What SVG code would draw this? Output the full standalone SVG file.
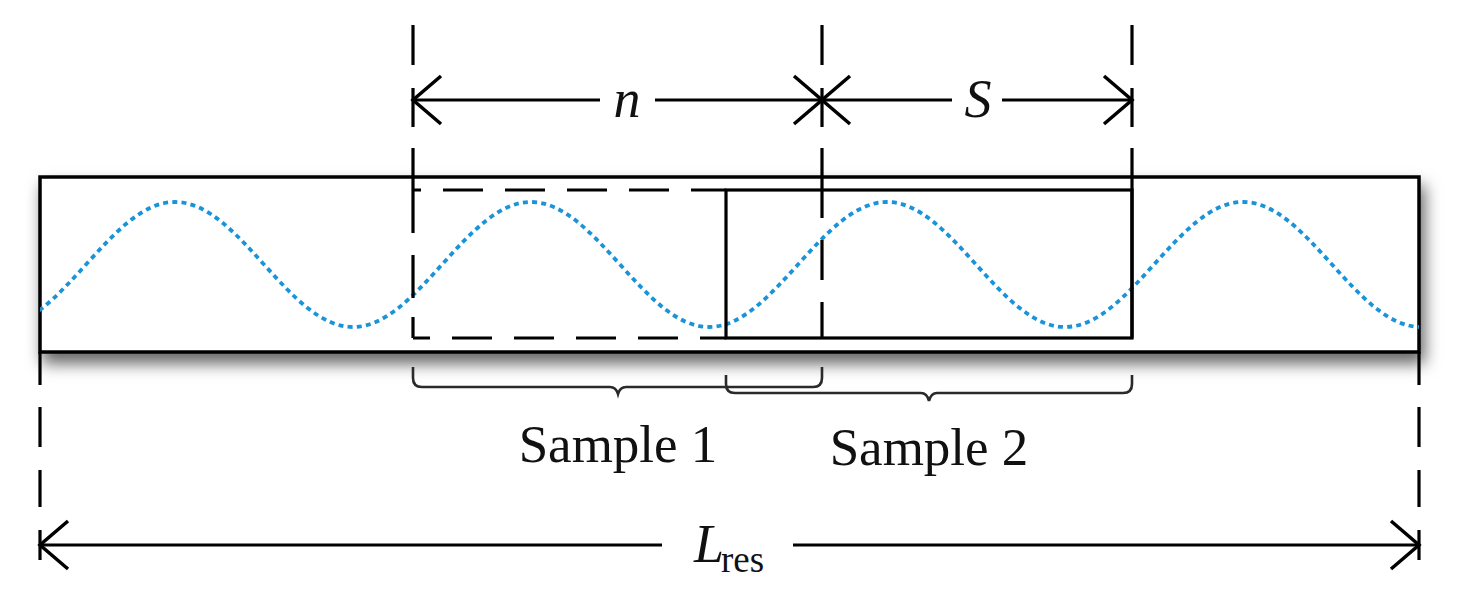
<svg xmlns="http://www.w3.org/2000/svg" width="1462" height="600" viewBox="0 0 1462 600">
  <defs>
    <style>
      .ln { stroke: #000; stroke-width: 3.2; fill: none; }
      .dash { stroke: #000; stroke-width: 3.2; fill: none; stroke-dasharray: 40 22; }
      .brace { stroke: #2a2a2a; stroke-width: 2.6; fill: none; }
      .wave { stroke: #1a93d9; stroke-width: 3.8; fill: none; stroke-dasharray: 5 4.2; }
      .lbl { font-family: "Liberation Serif", "Times New Roman", serif; fill: #111; }
      .it { font-style: italic; }
    </style>
    <marker id="arr" markerUnits="userSpaceOnUse" viewBox="-32 -28 36 56" refX="0" refY="0" markerWidth="36" markerHeight="56" orient="auto-start-reverse">
      <path d="M -28,-24 L 0,0 L -28,24" stroke="#000" stroke-width="3.5" fill="none"/>
    </marker>
    <filter id="shadow" x="-5%" y="-25%" width="110%" height="160%">
      <feDropShadow dx="4" dy="10" stdDeviation="8" flood-color="#000" flood-opacity="0.6"/>
    </filter>
    <clipPath id="clipRect">
      <rect x="40" y="177" width="1379" height="175"/>
    </clipPath>
  </defs>

  <g id="reservoir">
    <rect x="40" y="177" width="1379" height="175" fill="#fff" stroke="#000" stroke-width="3.5" filter="url(#shadow)"/>
  </g>

  <g id="wave" clip-path="url(#clipRect)">
    <path class="wave" d="M -3,327
      c 32.21,0 59.97,-30.5 89,-62.5 c 29.03,-32 56.79,-62.5 89,-62.5 c 32.21,0 59.97,30.5 89,62.5 c 29.03,32 56.79,62.5 89,62.5
      c 32.21,0 59.97,-30.5 89,-62.5 c 29.03,-32 56.79,-62.5 89,-62.5 c 32.21,0 59.97,30.5 89,62.5 c 29.03,32 56.79,62.5 89,62.5
      c 32.21,0 59.97,-30.5 89,-62.5 c 29.03,-32 56.79,-62.5 89,-62.5 c 32.21,0 59.97,30.5 89,62.5 c 29.03,32 56.79,62.5 89,62.5
      c 32.21,0 59.97,-30.5 89,-62.5 c 29.03,-32 56.79,-62.5 89,-62.5 c 32.21,0 59.97,30.5 89,62.5 c 29.03,32 56.79,62.5 89,62.5"/>
  </g>

  <g id="sample1-window">
    <path class="dash" d="M413,190 H726" stroke-dashoffset="32"/>
    <path class="dash" d="M413,338 H726" stroke-dashoffset="23"/>
  </g>

  <g id="sample2-window">
    <rect class="ln" x="726" y="190" width="406" height="148"/>
  </g>

  <g id="connectors">
    <path class="ln" d="M413,25V65 M413,88V127 M413,148V233 M413,255V298 M413,317V338"/>
    <path class="ln" d="M822,25V65 M822,88V127 M822,148V218 M822,240V280 M822,302V338"/>
    <path class="ln" d="M1132,25V65 M1132,88V127 M1132,148V338"/>
    <path class="ln" d="M40,352V385 M40,407V447 M40,470V507 M40,530V560"/>
    <path class="ln" d="M1419,352V385 M1419,407V447 M1419,470V507 M1419,530V560"/>

    <line class="ln" x1="413" y1="100" x2="600" y2="100" marker-start="url(#arr)"/>
    <line class="ln" x1="655" y1="100" x2="822" y2="100" marker-end="url(#arr)"/>
    <line class="ln" x1="822" y1="100" x2="952" y2="100" marker-start="url(#arr)"/>
    <line class="ln" x1="1002" y1="100" x2="1132" y2="100" marker-end="url(#arr)"/>
    <line class="ln" x1="40" y1="545" x2="662" y2="545" marker-start="url(#arr)"/>
    <line class="ln" x1="793" y1="545" x2="1419" y2="545" marker-end="url(#arr)"/>

    <path class="brace" d="M413,367 V378 Q413,387 422,387 H610 Q616,387 618,394 Q620,387 626,387 H813 Q822,387 822,378 V367"/>
    <path class="brace" d="M726,375 V384 Q726,393 735,393 H921 Q927,393 929,401 Q931,393 937,393 H1123 Q1132,393 1132,384 V375"/>
  </g>

  <g id="labels">
    <text class="lbl it" x="627" y="117" font-size="54" text-anchor="middle">n</text>
    <text class="lbl it" x="978" y="117" font-size="54" text-anchor="middle">S</text>
    <text class="lbl" x="618" y="462" font-size="53" text-anchor="middle">Sample 1</text>
    <text class="lbl" x="929" y="465" font-size="53" text-anchor="middle">Sample 2</text>
    <text class="lbl it" x="694" y="562" font-size="54">L</text>
    <text class="lbl" x="721" y="572" font-size="37">res</text>
  </g>
</svg>
